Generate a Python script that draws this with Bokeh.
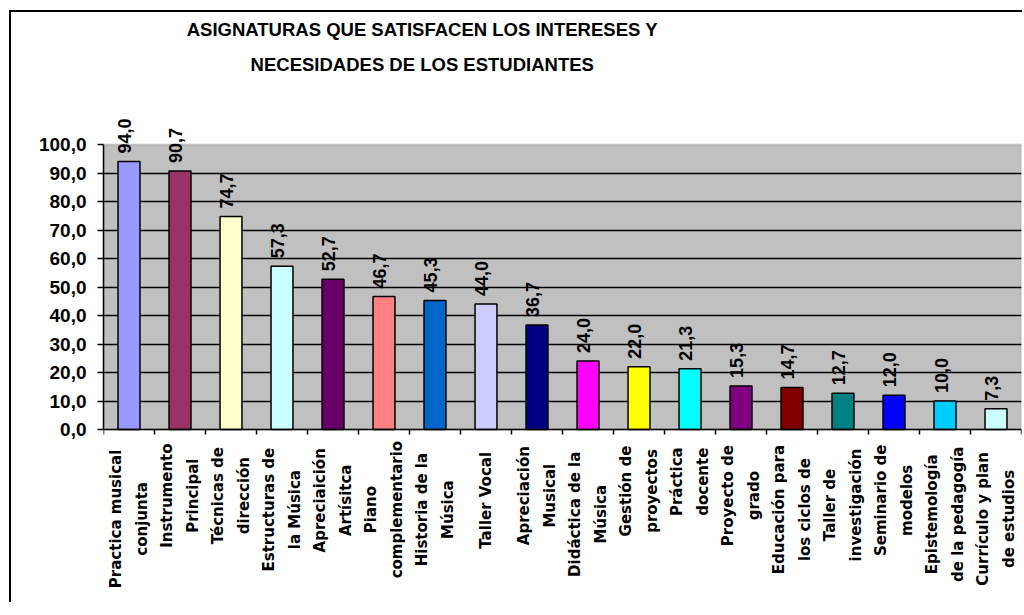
import math
from bokeh.plotting import figure
from bokeh.models import (Range1d, FixedTicker, ColumnDataSource, LabelSet,
                          Label, BoxAnnotation)
from bokeh.embed import file_html
from bokeh.resources import INLINE
from bokeh.core.properties import value

title_lines = ["ASIGNATURAS QUE SATISFACEN LOS INTERESES Y",
               "NECESIDADES DE LOS ESTUDIANTES"]

categories = [
    "Practica musical\nconjunta",
    "Instrumento\nPrincipal",
    "Técnicas de\ndirección",
    "Estructuras de\nla Música",
    "Apreciaición\nArtísitca",
    "Piano\ncomplementario",
    "Historia de la\nMúsica",
    "Taller Vocal",
    "Apreciación\nMusical",
    "Didáctica de la\nMúsica",
    "Gestión de\nproyectos",
    "Práctica\ndocente",
    "Proyecto de\ngrado",
    "Educación para\nlos ciclos de",
    "Taller de\ninvestigación",
    "Seminario de\nmodelos",
    "Epistemología\nde la pedagogía",
    "Currículo y plan\nde estudios",
]

values = [94.0, 90.7, 74.7, 57.3, 52.7, 46.7, 45.3, 44.0, 36.7,
          24.0, 22.0, 21.3, 15.3, 14.7, 12.7, 12.0, 10.0, 7.3]

colors = ["#9999FF", "#993366", "#FFFFCC", "#CCFFFF", "#660066", "#FF8080",
          "#0066CC", "#CCCCFF", "#000080", "#FF00FF", "#FFFF00", "#00FFFF",
          "#800080", "#800000", "#008080", "#0000FF", "#00CCFF", "#CCFFFF"]

y_ticks = [0, 10, 20, 30, 40, 50, 60, 70, 80, 90, 100]


def fmt(v):
    return f"{v:.1f}".replace(".", ",")


n = len(categories)
x_pos = [i + 0.5 for i in range(n)]      # centre of each category slot
x_edges = list(range(n + 1))             # slot boundaries (tick marks)
y_max = y_ticks[-1]

# plot area (0..100) is 285 px high; the drawing frame extends above it
# (title, value labels) and below it (category labels)
PLOT_H = 285
ABOVE_H = 132
BELOW_H = 173
FRAME_H = ABOVE_H + PLOT_H + BELOW_H
y_top = y_max * (PLOT_H + ABOVE_H) / PLOT_H
y_bot = -y_max * BELOW_H / PLOT_H

# split each category label into its two lines; both lines are centred on
# the same point, ~half of the longest line below the axis
parts = [c.split("\n") for c in categories]
line1 = [pt[0] for pt in parts]
line2 = [pt[1] if len(pt) > 1 else "" for pt in parts]
two = [len(pt) > 1 for pt in parts]
cat_offsets = [-(15 + 0.5 * 9.3 * max(len(s) for s in pt)) for pt in parts]
off1 = [-13 if t else 0 for t in two]
off2 = [13 if t else 0 for t in two]

src = ColumnDataSource(dict(
    x=x_pos, cat=categories, val=values, color=colors,
    vlabel=[fmt(v) for v in values],
    zero=[0] * n, cat_off=cat_offsets,
    line1=line1, line2=line2, off1=off1, off2=off2,
))

p = figure(
    x_range=Range1d(0, n),
    y_range=Range1d(y_bot, y_top),
    frame_width=918, frame_height=FRAME_H,
    min_border_left=92, min_border_right=1,
    min_border_top=0, min_border_bottom=0,
    output_backend="svg", toolbar_location=None,
    background_fill_color="white",
    border_fill_color="white",
    outline_line_color=None,
)
p.styles = {"margin-left": "9px", "margin-top": "10px",
            "border-style": "solid", "border-color": "black",
            "border-width": "2px 0px 0px 2px"}

# grey plot area 0..100
p.add_layout(BoxAnnotation(left=0, right=n, bottom=0, top=y_max,
                           fill_color="#C0C0C0", fill_alpha=1,
                           line_color="#808080", line_width=2,
                           level="image"))

# y axis
p.yaxis.bounds = (0, y_max)
p.yaxis.ticker = FixedTicker(ticks=y_ticks)
p.yaxis.major_label_overrides = {t: fmt(t) for t in y_ticks}
p.yaxis.major_label_text_font = "Liberation Sans"
p.yaxis.major_label_text_font_style = "bold"
p.yaxis.major_label_text_font_size = "19px"
p.yaxis.major_label_text_color = "black"
p.yaxis.major_label_standoff = 11
p.yaxis.major_tick_out = 6
p.yaxis.major_tick_in = 0
p.yaxis.major_tick_line_color = "black"
p.yaxis.major_tick_line_width = 1.5
p.yaxis.minor_tick_line_color = None
p.yaxis.axis_line_color = "black"
p.yaxis.axis_line_width = 1.5

p.ygrid.ticker = FixedTicker(ticks=y_ticks[1:-1])
p.ygrid.grid_line_color = "black"
p.ygrid.grid_line_width = 1.5
p.xgrid.grid_line_color = None

# x axis fixed at y=0: tick marks at slot boundaries
p.xaxis.fixed_location = 0
p.xaxis.ticker = FixedTicker(ticks=x_edges)
p.xaxis.major_label_text_color = None
p.xaxis.major_label_text_font_size = "1px"
p.xaxis.major_label_standoff = 0
p.xaxis.major_tick_line_color = "black"
p.xaxis.major_tick_line_width = 1.5
p.xaxis.major_tick_out = 5
p.xaxis.major_tick_in = 0
p.xaxis.minor_tick_line_color = None
p.xaxis.axis_line_color = "black"
p.xaxis.axis_line_width = 1.5

# bars
p.vbar(x="x", top="val", width=0.43, fill_color="color",
       line_color="black", line_width=1.5, source=src)

# value labels
p.add_layout(LabelSet(
    x="x", y="val", text="vlabel", source=src,
    angle=math.pi / 2, text_align="left", text_baseline="middle",
    x_offset=-4, y_offset=8,
    text_font=value("Liberation Sans"), text_font_style="bold",
    text_font_size="18px", text_color="black",
))

# category labels: each line rotated and centred
for col, xoff in (("line1", "off1"), ("line2", "off2")):
    p.add_layout(LabelSet(
        x="x", y="zero", text=col, source=src,
        angle=math.pi / 2, text_align="center", text_baseline="middle",
        x_offset=xoff, y_offset="cat_off",
        text_font=value("DejaVu Sans"), text_font_style="bold",
        text_font_size="15px", text_color="black",
    ))

# title (centred at x≈422 px, y≈48 px of the page)
p.add_layout(Label(
    x=6.25, y=134.2,
    text="\n".join(title_lines),
    text_align="center", text_baseline="middle",
    text_font="Liberation Sans", text_font_style="bold",
    text_font_size="18.5px", text_color="black", text_line_height=1.64,
))

open("out.html", "w").write(file_html(p, INLINE))
